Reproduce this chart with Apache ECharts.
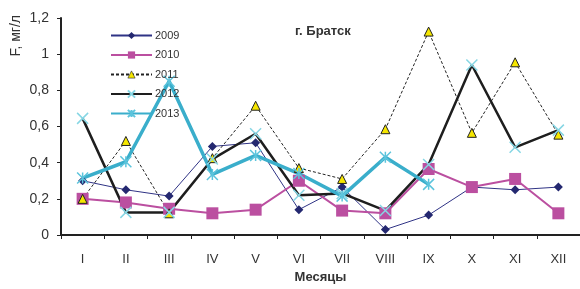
<!DOCTYPE html>
<html>
<head>
<meta charset="utf-8">
<script src="https://cdn.jsdelivr.net/npm/echarts@6/dist/echarts.min.js"></script>
<style>
  html, body { margin: 0; padding: 0; background: #fff; }
  #chart { width: 580px; height: 289px; }
</style>
</head>
<body>
<div id="chart"></div>
<script>
// месяцы
const months = ['I', 'II', 'III', 'IV', 'V', 'VI', 'VII', 'VIII', 'IX', 'X', 'XI', 'XII'];
const yTicks = [0, 0.2, 0.4, 0.6, 0.8, 1, 1.2];

const s2009 = [0.30, 0.25, 0.215, 0.49, 0.51, 0.14, 0.265, 0.03, 0.11, 0.265, 0.25, 0.265];
const s2010 = [0.20, 0.18, 0.145, 0.12, 0.14, 0.30, 0.135, 0.12, 0.365, 0.265, 0.31, 0.12];
const s2011 = [0.20, 0.52, 0.12, 0.425, 0.715, 0.37, 0.31, 0.585, 1.125, 0.565, 0.955, 0.555];
const s2012 = [0.645, 0.125, 0.125, 0.42, 0.56, 0.22, 0.23, 0.135, 0.39, 0.94, 0.485, 0.58];
const s2013 = [0.315, 0.405, 0.85, 0.335, 0.44, 0.34, 0.215, 0.43, 0.28, null, null, null];

const crossPath = 'path://M0,0L10,10M10,0L0,10';
const starPath = 'path://M0,0L10,10M10,0L0,10M5,0L5,10';

const chart = echarts.init(document.getElementById('chart'), null, { renderer: 'canvas' });

const option = {
  animation: false,
  textStyle: { fontFamily: 'Liberation Sans, Arial, sans-serif', color: '#333' },
  title: {
    text: 'г. Братск',
    left: 290,
    top: 20,
    textStyle: { fontSize: 13, fontWeight: 'bold', color: '#333' }
  },
  legend: {
    orient: 'vertical',
    left: 105,
    top: 25,
    itemWidth: 41,
    itemHeight: 9,
    itemGap: 8.5,
    textStyle: { fontSize: 11, color: '#333', padding: [0, 0, 0, -2] },
    data: [
      '2009', '2010',
      { name: '2011', itemStyle: { borderWidth: 0.6 } },
      '2012', '2013'
    ]
  },
  grid: { left: 61, right: 0, top: 18, bottom: 50 },
  xAxis: {
    type: 'category',
    data: months,
    name: 'Месяцы',
    nameLocation: 'middle',
    nameGap: 36,
    nameTextStyle: { fontSize: 13, fontWeight: 'bold', color: '#333' },
    axisLine: { lineStyle: { color: '#222', width: 2 } },
    axisTick: { show: true, length: 4, inside: false, lineStyle: { color: '#222' } },
    axisLabel: { fontSize: 13, color: '#333', margin: 18 },
    splitLine: { show: false }
  },
  yAxis: {
    type: 'value',
    min: 0,
    max: 1.2,
    interval: 0.2,
    axisLine: { show: true, lineStyle: { color: '#222', width: 2 } },
    axisTick: { show: true, length: 4, lineStyle: { color: '#222' } },
    axisLabel: {
      fontSize: 14,
      color: '#333',
      margin: 12,
      formatter: v => String(Math.round(v * 10) / 10).replace('.', ',')
    },
    splitLine: { show: false }
  },
  graphic: [{
    type: 'text',
    left: 9,
    top: 15,
    rotation: Math.PI / 2,
    style: { text: 'F, мг/л', fontSize: 14, fill: '#333', fontFamily: 'Liberation Sans, Arial, sans-serif' }
  }],
  series: [
    {
      name: '2009', type: 'line', data: s2009,
      symbol: 'diamond', symbolSize: 9,
      lineStyle: { color: '#2f3385', width: 1 },
      itemStyle: { color: '#242870' }
    },
    {
      name: '2010', type: 'line', data: s2010,
      symbol: 'rect', symbolSize: 12,
      lineStyle: { color: '#bb4fa0', width: 2 },
      itemStyle: { color: '#bb4fa0' }
    },
    {
      name: '2011', type: 'line', data: s2011,
      symbol: 'triangle', symbolSize: 9,
      lineStyle: { color: '#222', width: 1, type: [3, 2] },
      itemStyle: { color: '#f5e600', borderColor: '#222', borderWidth: 1 }
    },
    {
      name: '2012', type: 'line', data: s2012,
      symbol: crossPath, symbolSize: 11,
      lineStyle: { color: '#1e1e1e', width: 2.5 },
      itemStyle: { color: '#86d6e4', borderColor: '#86d6e4', borderWidth: 1.5 }
    },
    {
      name: '2013', type: 'line', data: s2013,
      symbol: starPath, symbolSize: 11,
      lineStyle: { color: '#3aaecb', width: 3.5 },
      itemStyle: { color: '#5cc4dc', borderColor: '#5cc4dc', borderWidth: 1.5 }
    }
  ]
};

chart.setOption(option);
</script>
</body>
</html>
